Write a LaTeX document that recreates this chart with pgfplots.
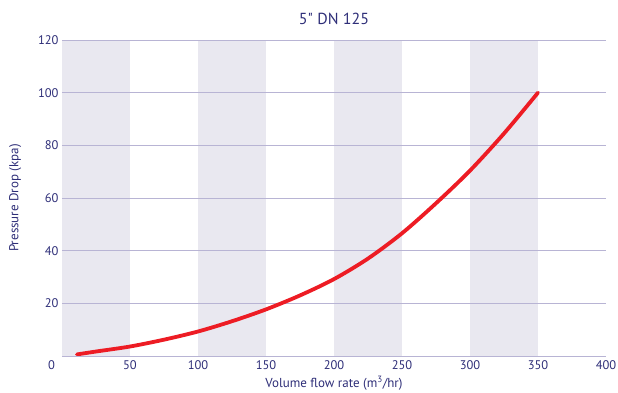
\documentclass[border=0pt]{standalone}
\usepackage{fontspec}
\setmainfont{PT Sans}
\usepackage{pgfplots}
\pgfplotsset{compat=1.18}
\definecolor{navy}{RGB}{46,46,120}
\definecolor{band}{RGB}{233,232,240}
\definecolor{gridc}{RGB}{184,180,212}
\definecolor{curve}{RGB}{237,28,36}
\begin{document}
\begin{tikzpicture}
\begin{axis}[
  set layers,
  at={(0pt,0pt)}, anchor=south west,
  scale only axis, width=544pt, height=316pt,
  xmin=0, xmax=400, ymin=0, ymax=120,
  xtick={0,50,...,400}, ytick={0,20,...,120},
  xticklabels={\makebox[0pt][r]{0\kern7pt},50,100,150,200,250,300,350,400},
  yticklabels={{},20,40,60,80,100,120},
  ymajorgrids, grid style={gridc, line width=0.9pt},
  axis line style={draw=none},
  tick style={draw=none},
  /pgf/number format/assume math mode=true,
  ticklabel style={font=\fontsize{12.5}{14}\selectfont, text=navy},
  xticklabel style={yshift=-1pt},
  title={5\textquotedbl\ DN 125},
  title style={font=\fontsize{16}{18}\selectfont, text=navy, yshift=6pt},
  xlabel={Volume flow rate (m\textsuperscript{3}/hr)},
  ylabel={Pressure Drop (kpa)},
  label style={font=\fontsize{13}{15}\selectfont, text=navy},
  xlabel style={yshift=0pt},
  ylabel style={yshift=10pt},
]
\addplot[on layer=axis background, fill=band, draw=none] coordinates {(0,120) (50,120)} \closedcycle;
\addplot[on layer=axis background, fill=band, draw=none] coordinates {(100,120) (150,120)} \closedcycle;
\addplot[on layer=axis background, fill=band, draw=none] coordinates {(200,120) (250,120)} \closedcycle;
\addplot[on layer=axis background, fill=band, draw=none] coordinates {(300,120) (350,120)} \closedcycle;
\addplot[curve, line width=3.8pt, smooth, line cap=round] coordinates {
(11,0.6) (25,1.7) (50,3.6) (75,6.2) (100,9.3) (125,13.2) (150,17.7) (175,23)
(200,29.2) (225,37) (250,46.6) (275,58) (300,70.4) (325,84.5) (350,100)
};
\end{axis}
\pgfresetboundingbox
\path (-62pt,-37pt) rectangle (556pt,356pt);
\end{tikzpicture}
\end{document}
